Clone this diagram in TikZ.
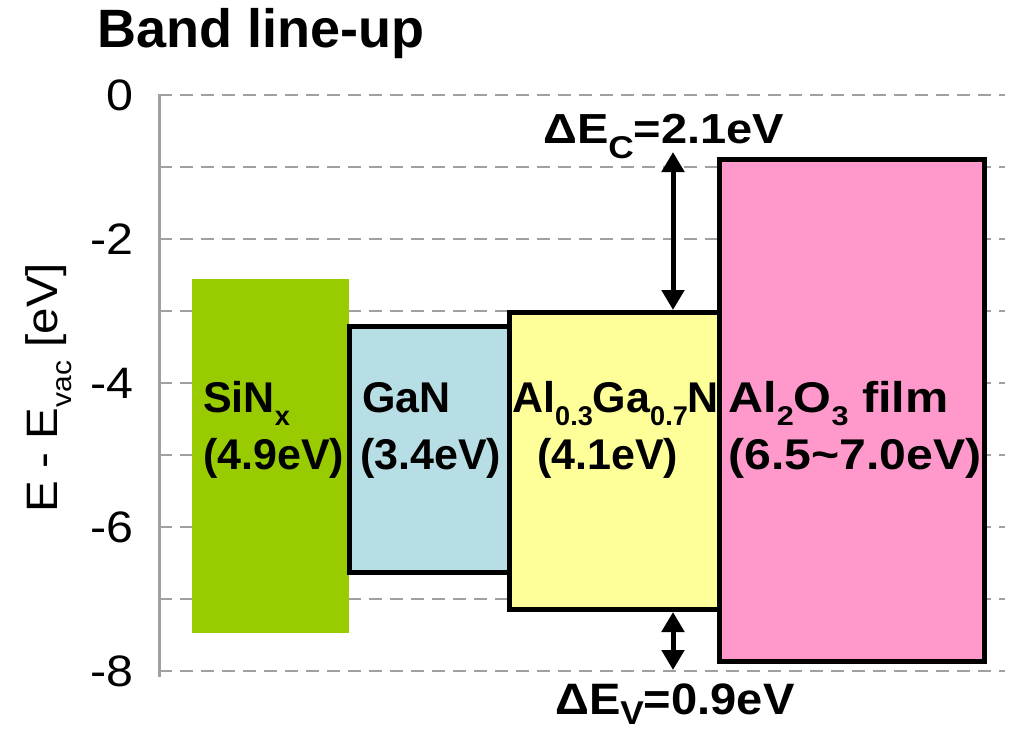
\documentclass[tikz,border=0pt]{standalone}
\usepackage{fontspec}
\setmainfont{Liberation Sans}
\usetikzlibrary{arrows.meta}
\definecolor{sinc}{RGB}{153,204,0}
\definecolor{ganc}{RGB}{183,222,228}
\definecolor{algc}{RGB}{255,255,153}
\definecolor{aloc}{RGB}{255,153,204}
\definecolor{gridc}{RGB}{160,160,160}
\newcommand\sbx[1]{\raisebox{-0.32em}{\scalebox{0.63}{#1}}}
\newcommand\sbd[1]{\raisebox{-0.38em}{\scalebox{0.75}{#1}}}
\newcommand\xs[2]{\scalebox{#1}[1]{#2}}
\begin{document}
\begin{tikzpicture}[x=1pt,y=-1pt,
 gridline/.style={draw=gridc, line width=2.5pt, dash pattern=on 13pt off 8pt},
 band/.style={draw=black, line width=5pt, rectangle, inner sep=0pt, anchor=north west},
 lbl/.style={font=\fontsize{43}{50}\selectfont\bfseries, inner sep=0pt, anchor=base west},
 dlbl/.style={inner sep=0pt, anchor=base west},
 ticklbl/.style={font=\fontsize{44}{50}\selectfont, inner sep=0pt, anchor=east},
 dbl/.style={line width=5pt, {Triangle[width=22pt,length=20pt]}-{Triangle[width=22pt,length=20pt]}}
]
\useasboundingbox (0,0) rectangle (1010,731);
% grid
\foreach \i in {0,...,8} {
  \draw[gridline] (159,95+72*\i) -- (1005,95+72*\i);
}
\draw[draw=gridc, line width=3pt] (159,94) -- (159,677);
\foreach \i/\t in {0/0,2/-2,4/-4,6/-6,8/-8} {
  \node[ticklbl] (t\i) at (134,95+72*\i) {\xs{1.1}{\t}};
}
\node[font=\fontsize{44}{50}\selectfont, inner sep=0pt, rotate=90, anchor=base] (ylab) at (57,388) {\xs{1.08}{E - E\sbx{vac} [eV]}};
\node[font=\fontsize{54}{60}\selectfont\bfseries, inner sep=0pt, anchor=base west] (title) at (97,47) {Band line-up};
% bands
\node[fill=sinc, draw=none, rectangle, inner sep=0pt, outer sep=0pt, anchor=north west, minimum width=157pt, minimum height=354pt] (sin) at (192,279) {};
\node[band, fill=ganc, minimum width=160pt, minimum height=246pt] (gan) at (346.5,324) {};
\node[band, fill=algc, minimum width=210.5pt, minimum height=297pt] (algan) at (506.5,310) {};
\node[band, fill=aloc, minimum width=265pt, minimum height=502pt] (alo) at (717,157) {};
% labels
\node[lbl] (sin1) at (203,412) {SiN\sbx{x}};
\node[lbl] (sin2) at (203,469) {(4.9eV)};
\node[lbl] (gan1) at (362,412) {GaN};
\node[lbl] (gan2) at (360,469) {(3.4eV)};
\node[lbl] (alg1) at (512,412) {Al\sbx{0.3}Ga\sbx{0.7}N};
\node[lbl] (alg2) at (537,469) {(4.1eV)};
\node[lbl] (alo1) at (728,412) {\xs{1.13}{Al\sbx{2}O\sbx{3} film}};
\node[lbl] (alo2) at (728,469) {\xs{1.12}{(6.5\char`\~7.0eV)}};
% offsets
\coordinate (ectop) at (673,152);
\coordinate (evbot) at (673,670);
\draw[dbl] (ectop) -- (ectop |- algan.north);
\draw[dbl] (evbot |- algan.south) -- (evbot);
\node[dlbl, font=\fontsize{42}{48}\selectfont\bfseries] (eclab) at (543,143) {\xs{1.12}{ΔE\sbd{C}=2.1eV}};
\node[dlbl, font=\fontsize{44}{50}\selectfont\bfseries] (evlab) at (555,714) {\xs{1.07}{ΔE\raisebox{-0.24em}{\scalebox{0.75}{V}}=0.9eV}};
\end{tikzpicture}
\end{document}
